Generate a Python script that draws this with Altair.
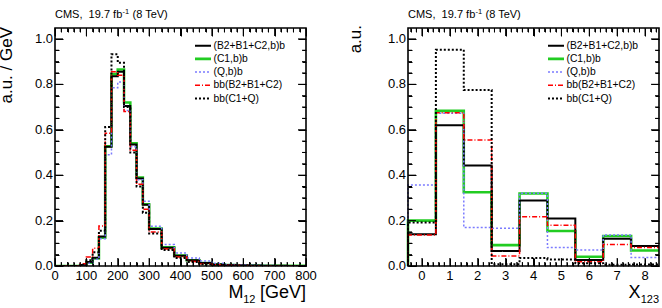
import altair as alt
import pandas as pd
import numpy as np

# ---------------- data ----------------
series = ["(B2+B1+C2,b)b", "(C1,b)b", "(Q,b)b", "bb(B2+B1+C2)", "bb(C1+Q)"]
colors = ["#000000", "#22cc22", "#7b7bff", "#ff0000", "#000000"]
dashes = [[1, 0], [1, 0], [2, 2], [5, 2, 1, 2], [2, 2]]
widths = [2.0, 2.6, 1.5, 1.5, 2.0]
draw_order = [1, 0, 2, 3, 4]

# M12 binning: 20 GeV up to 300, 40 GeV above
m12_edges = list(range(0, 300, 20)) + list(range(300, 800, 40)) + [800]

m12_b_b2b1c2 = [0, 0, 0, 0, 0.004, 0.018, 0.036, 0.13, 0.525, 0.835, 0.855, 0.705, 0.535, 0.385, 0.27,
                0.163, 0.08, 0.045, 0.025, 0.013, 0.007, 0.004, 0.003, 0.002, 0.001, 0.001, 0.0005, 0.0005]
m12_c1 = [0, 0, 0, 0, 0.003, 0.015, 0.033, 0.125, 0.527, 0.845, 0.865, 0.72, 0.54, 0.39, 0.272,
          0.165, 0.082, 0.046, 0.025, 0.013, 0.007, 0.004, 0.003, 0.002, 0.001, 0.001, 0.0005, 0.0005]
m12_q = [0, 0, 0, 0, 0.003, 0.012, 0.03, 0.12, 0.49, 0.785, 0.81, 0.685, 0.525, 0.38, 0.285,
         0.175, 0.095, 0.057, 0.035, 0.022, 0.012, 0.007, 0.005, 0.003, 0.002, 0.001, 0.001, 0.001]
m12_bb_b2b1c2 = [0, 0, 0, 0, 0.01, 0.04, 0.078, 0.176, 0.585, 0.855, 0.84, 0.68, 0.51, 0.36, 0.25,
                 0.15, 0.075, 0.04, 0.02, 0.01, 0.006, 0.003, 0.002, 0.001, 0.001, 0.0005, 0.0005, 0]
m12_bb_c1q = [0, 0, 0, 0, 0.005, 0.025, 0.06, 0.155, 0.612, 0.932, 0.895, 0.70, 0.50, 0.35, 0.235,
              0.143, 0.07, 0.035, 0.018, 0.008, 0.005, 0.003, 0.002, 0.001, 0.0005, 0, 0, 0]

x123_edges = [-0.5, 0.5, 1.5, 2.5, 3.5, 4.5, 5.5, 6.5, 7.5, 8.5]
x123_b_b2b1c2 = [0.14, 0.62, 0.443, 0.066, 0.288, 0.209, 0.026, 0.12, 0.088]
x123_c1 = [0.2, 0.683, 0.325, 0.092, 0.319, 0.154, 0.041, 0.132, 0.068]
x123_q = [0.357, 0.673, 0.169, 0.166, 0.32, 0.081, 0.07, 0.137, 0.037]
x123_bb_b2b1c2 = [0.137, 0.675, 0.555, 0.044, 0.217, 0.179, 0.019, 0.095, 0.082]
x123_bb_c1q = [0.191, 0.952, 0.775, 0.008, 0.035, 0.029, 0.012, 0.005, 0.007]

m12_sets = [m12_b_b2b1c2, m12_c1, m12_q, m12_bb_b2b1c2, m12_bb_c1q]
x123_sets = [x123_b_b2b1c2, x123_c1, x123_q, x123_bb_b2b1c2, x123_bb_c1q]

m12_major = [0, 100, 200, 300, 400, 500, 600, 700, 800]
x123_major = [0, 1, 2, 3, 4, 5, 6, 7, 8]
y_major = [0.0, 0.2, 0.4, 0.6, 0.8, 1.0]

# ---------------- geometry ----------------
W_PANEL = 251
GAP = 102
H = 238
RIGHT0 = W_PANEL + GAP
TOTAL_W = RIGHT0 + W_PANEL
FONT = "Liberation Sans"
MAJ, MIN = 8, 4
Y_DOM = [0, 1.048]

one = pd.DataFrame({"k": [0]})


def yscale():
    return alt.Scale(domain=Y_DOM, nice=False, zero=False)


def step_frame(edges, vals):
    xs = [float(edges[0])] + [float(e) for e in edges]
    ys = [0.0] + [float(v) for v in vals] + [float(vals[-1])]
    return pd.DataFrame({"x": xs, "y": ys, "o": list(range(len(xs)))})


def text(t, x, y, size, align="left", baseline="alphabetic", angle=0):
    kw = dict(text=t, font=FONT, fontSize=size, align=align, baseline=baseline, color="black")
    if angle:
        kw["angle"] = angle
    return alt.Chart(one).mark_text(**kw).encode(x=alt.value(x), y=alt.value(y))


def tick_axis(values, orient, length, offset):
    """Label-less axis used only for its inward-pointing ticks."""
    return alt.Axis(values=values, orient=orient, offset=offset, tickSize=length, ticks=True,
                    tickColor="black", tickWidth=1, labels=False, domain=False, grid=False,
                    title=None, tickCount=len(values))


def tick_segments(xdom, xmajor, xminor, ymajor, yminor):
    """Inward tick segments on all four frame sides, in data units of the panel."""
    ux = (xdom[1] - xdom[0]) / W_PANEL
    uy = (Y_DOM[1] - Y_DOM[0]) / H
    rows = []
    k = 0
    for vals, L in [(xmajor, MAJ), (xminor, MIN)]:
        for v in vals:
            for a, b in ((Y_DOM[0], Y_DOM[0] + L * uy), (Y_DOM[1], Y_DOM[1] - L * uy)):
                rows += [(k, float(v), a), (k, float(v), b)]
                k += 1
    for vals, L in [(ymajor, MAJ), (yminor, MIN)]:
        for v in vals:
            for a, b in ((xdom[0], xdom[0] + L * ux), (xdom[1] - L * ux, xdom[1])):
                rows += [(k, a, float(v)), (k, b, float(v))]
                k += 1
    return pd.DataFrame(rows, columns=["id", "x", "y"])


def panel(edges, sets, xdom, x0, xmajor, xminor, ymajor, yminor):
    x1 = x0 + W_PANEL

    def xs():
        return alt.Scale(domain=xdom, range=[x0, x1], nice=False, zero=False)

    # tick axes carried by the histogram layers (x: bottom/top, y: left/right edges)
    x_axes = [tick_axis(xmajor, "bottom", MAJ, -MAJ), tick_axis(xminor, "bottom", MIN, -MIN),
              tick_axis(xmajor, "top", MAJ, -MAJ), tick_axis(xminor, "top", MIN, -MIN), None]
    y_axes = [tick_axis(ymajor, "left", MAJ, -(x0 + MAJ)), tick_axis(yminor, "left", MIN, -(x0 + MIN)),
              tick_axis(ymajor, "left", MAJ, -x1), tick_axis(yminor, "left", MIN, -x1), None]

    layers = []
    for n, i in enumerate(draw_order):
        df = step_frame(edges, sets[i])
        layers.append(
            alt.Chart(df).mark_line(interpolate="step-after", clip=True, color=colors[i],
                                    strokeWidth=widths[i], strokeDash=dashes[i])
            .encode(x=alt.X("x:Q", scale=xs(), axis=x_axes[n]),
                    y=alt.Y("y:Q", scale=yscale(), axis=y_axes[n]),
                    order="o:Q")
        )

    # tick labels
    dx = pd.DataFrame({"v": [float(v) for v in xmajor], "t": [str(v) for v in xmajor]})
    layers.append(alt.Chart(dx).mark_text(font=FONT, fontSize=13, baseline="top", align="center", color="black")
                  .encode(x=alt.X("v:Q", scale=xs(), axis=None), y=alt.value(H + 4), text="t:N"))
    dy = pd.DataFrame({"v": ymajor, "t": ["%.1f" % v for v in ymajor]})
    layers.append(alt.Chart(dy).mark_text(font=FONT, fontSize=13, baseline="middle", align="right", color="black")
                  .encode(y=alt.Y("v:Q", scale=yscale(), axis=None), x=alt.value(x0 - 2), text="t:N"))

    # frame
    layers.append(alt.Chart(one).mark_rect(fillOpacity=0, stroke="black", strokeWidth=1.6)
                  .encode(x=alt.value(x0), x2=alt.value(x1), y=alt.value(0), y2=alt.value(H)))

    # legend
    for i in range(len(series)):
        yy = 17.7 + 13.2 * i
        lx = x0 + 140
        layers.append(alt.Chart(one).mark_rule(color=colors[i], strokeWidth=widths[i], strokeDash=dashes[i])
                      .encode(x=alt.value(lx), x2=alt.value(lx + 16), y=alt.value(yy)))
        layers.append(text(series[i], lx + 18.5, yy, 10.3, baseline="middle"))

    # header
    layers.append(text("CMS,\u00a0\u00a019.7 fb", x0, -10, 11))
    layers.append(text("-1", x0 + 67.5, -14.5, 7.5))
    layers.append(text("(8 TeV)", x0 + 77.5, -10, 11))

    # inward tick segments drawn on top of everything
    ticks = (alt.Chart(tick_segments(xdom, xmajor, xminor, ymajor, yminor))
             .mark_line(color="black", strokeWidth=1)
             .encode(x=alt.X("x:Q", scale=xs(), axis=None),
                     y=alt.Y("y:Q", scale=yscale(), axis=None),
                     detail="id:N"))
    return layers, ticks


m12_minor = [v for v in range(0, 801, 20) if v % 100]
x123_minor = [round(k * 0.2 - 0.4, 1) for k in range(45) if (k * 2 - 4) % 10 != 0]
x123_minor = [v for v in x123_minor if -0.5 < v < 8.5]
y_minor = [round(0.05 * k, 2) for k in range(1, 21) if k % 4]

left_layers, left_ticks = panel(m12_edges, m12_sets, [0, 800], 0, m12_major, m12_minor, y_major, y_minor)
right_layers, right_ticks = panel(x123_edges, x123_sets, [-0.5, 8.5], RIGHT0, x123_major, x123_minor,
                                  y_major, y_minor)

titles = [
    text("a.u. / GeV", -43, -1, 17, align="right", angle=270),
    text("a.u.", RIGHT0 - 47, -3, 17, align="right", angle=270),
    text("[GeV]", W_PANEL, 270, 18, align="right"),
    text("12", W_PANEL - 50.5, 275, 11, align="right"),
    text("M", W_PANEL - 62.5, 270, 18, align="right"),
    text("123", TOTAL_W, 275, 11, align="right"),
    text("X", TOTAL_W - 18.5, 270, 18, align="right"),
]

chart = (
    alt.layer(*left_layers, *right_layers, *titles, left_ticks, right_ticks)
    .resolve_scale(x="independent")
    .resolve_axis(x="independent", y="independent")
    .properties(width=TOTAL_W, height=H, autosize=alt.AutoSizeParams(type="none"),
                padding={"left": 55, "top": 28, "right": 3, "bottom": 42})
    .configure_view(stroke=None)
)

chart.save("out.html", embed_options={"renderer": "svg", "actions": False})
